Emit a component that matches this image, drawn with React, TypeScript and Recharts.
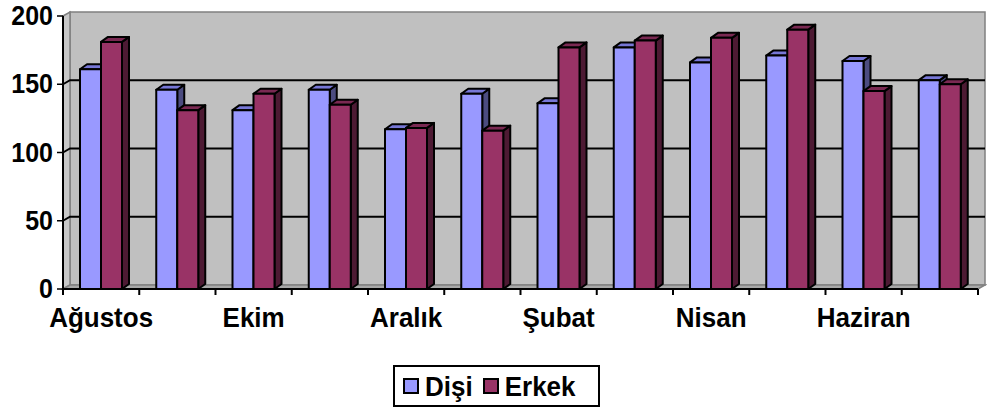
import React from "react";
import { BarChart, Bar, XAxis, YAxis, Legend, ReferenceArea } from "recharts";

// monthly counts, August through July
const months = ["Ağustos", "Eylül", "Ekim", "Kasım", "Aralık", "Ocak", "Şubat", "Mart", "Nisan", "Mayıs", "Haziran", "Temmuz"];
const disi = [161, 146, 131, 146, 117, 143, 136, 177, 166, 171, 167, 153];
const erkek = [181, 131, 143, 135, 118, 116, 177, 182, 184, 190, 145, 150];
const yTicks = [0, 50, 100, 150, 200];

const palette: Record<string, { front: string; top: string; side: string }> = {
  "Dişi": { front: "#9999FF", top: "#7777D6", side: "#4C4C80" },
  "Erkek": { front: "#993366", top: "#7A2952", side: "#4D1A33" },
};

const data = months.map((m, i) => ({ month: m, "Dişi": disi[i], "Erkek": erkek[i] }));

const W = 987;
const H = 414;
const margin = { top: 16, right: 9, left: 0, bottom: 7 };
const Y_W = 63;
const PLOT_W = W - margin.left - margin.right - Y_W;
const FONT = '"Liberation Sans", Arial, Helvetica, sans-serif';
const STRETCH = 1.08; // labels are drawn a little taller than the font

// depth of the back wall and of each bar (excel-style 3d look)
const WALL_DX = 7;
const WALL_DY = 4;
const BAR_DX = 7;
const BAR_DY = 5;

const Bar3D = (props: any) => {
  const { x, y, width: w, height: h, colors } = props;
  if (w == null || h == null || isNaN(y)) return null;
  const r = x + w;
  const b = y + h;
  return (
    <g stroke="#000" strokeWidth={2} strokeLinejoin="round">
      <polygon points={`${r},${y} ${r + BAR_DX},${y - BAR_DY} ${r + BAR_DX},${b - BAR_DY} ${r},${b}`} fill={colors.side} />
      <polygon points={`${x},${y} ${x + BAR_DX},${y - BAR_DY} ${r + BAR_DX},${y - BAR_DY} ${r},${y}`} fill={colors.top} />
      <rect x={x} y={y} width={w} height={h} fill={colors.front} />
    </g>
  );
};

// back wall, side wall, floor and gridlines
const Walls = (props: any) => {
  const { x, y, width: w, height: h } = props;
  const yMax = yTicks[yTicks.length - 1];
  const b = y + h;
  return (
    <g>
      <rect x={x + WALL_DX} y={y - WALL_DY} width={w} height={h} fill="#C0C0C0" stroke="#808080" strokeWidth={1.5} />
      <polygon points={`${x},${y} ${x + WALL_DX},${y - WALL_DY} ${x + WALL_DX},${b - WALL_DY} ${x},${b}`} fill="#C8C8C8" stroke="#808080" strokeWidth={1.5} />
      <polygon points={`${x},${b} ${x + WALL_DX},${b - WALL_DY} ${x + w + WALL_DX},${b - WALL_DY} ${x + w},${b}`} fill="#A8A8A8" stroke="#808080" strokeWidth={1.5} />
      {yTicks.slice(1, -1).map((v) => {
        const gy = y + (h * (yMax - v)) / yMax;
        return (
          <polyline
            key={v}
            points={`${x},${gy} ${x + WALL_DX},${gy - WALL_DY} ${x + w + WALL_DX},${gy - WALL_DY}`}
            fill="none"
            stroke="#000"
            strokeWidth={2}
          />
        );
      })}
    </g>
  );
};

const MonthTick = (props: any) => {
  const { x, y, payload, index } = props;
  const band = PLOT_W / months.length;
  const left = x - band / 2;
  return (
    <g>
      <line x1={left} y1={y - 6} x2={left} y2={y} stroke="#000" strokeWidth={2} />
      {index === months.length - 1 && (
        <line x1={left + band} y1={y - 6} x2={left + band} y2={y} stroke="#000" strokeWidth={2} />
      )}
      {index % 2 === 0 && (
        <text
          transform={`translate(${x},${y + 32}) scale(1,${STRETCH})`}
          textAnchor="middle"
          fontFamily={FONT}
          fontWeight="bold"
          fontSize={26}
          fill="#000"
        >
          {payload.value}
        </text>
      )}
    </g>
  );
};

const ValueTick = (props: any) => {
  const { x, y, payload } = props;
  return (
    <text
      transform={`translate(${x},${y + 9}) scale(1,${STRETCH})`}
      textAnchor="end"
      fontFamily={FONT}
      fontWeight="bold"
      fontSize={25}
      fill="#000"
    >
      {payload.value}
    </text>
  );
};

const LegendBox = () => (
  <div style={{ display: "flex", justifyContent: "center" }}>
    <div
      style={{
        marginLeft: 6,
        width: 207,
        height: 42,
        boxSizing: "border-box",
        border: "2px solid #000",
        background: "#fff",
        display: "flex",
        alignItems: "center",
        paddingLeft: 8,
        fontFamily: FONT,
        fontWeight: "bold",
        fontSize: 26,
        color: "#000",
      }}
    >
      {Object.keys(palette).map((name, i) => (
        <span key={name} style={{ display: "flex", alignItems: "center", marginLeft: i === 0 ? 0 : 10 }}>
          <span
            style={{
              width: 16,
              height: 16,
              boxSizing: "border-box",
              border: "2px solid #000",
              background: palette[name].front,
              marginRight: 6,
            }}
          />
          <span style={{ display: "inline-block", transform: `scaleY(${STRETCH})` }}>{name}</span>
        </span>
      ))}
    </div>
  </div>
);

export default function App() {
  return (
    <div style={{ position: "absolute", left: 0, top: 0, width: W, height: H, background: "#fff" }}>
      <BarChart width={W} height={H} data={data} margin={margin} barGap={0} barSize={21}>
        <ReferenceArea y1={0} y2={200} shape={<Walls />} ifOverflow="visible" />
        <XAxis
          dataKey="month"
          interval={0}
          height={76}
          tickLine={false}
          tickSize={6}
          tickMargin={0}
          axisLine={{ stroke: "#000", strokeWidth: 2 }}
          tick={<MonthTick />}
        />
        <YAxis
          width={Y_W}
          domain={[0, 200]}
          ticks={yTicks}
          interval={0}
          tickSize={6}
          tickMargin={4}
          axisLine={{ stroke: "#000", strokeWidth: 2 }}
          tickLine={{ stroke: "#000", strokeWidth: 1.5 }}
          tick={<ValueTick />}
        />
        <Legend verticalAlign="bottom" align="left" wrapperStyle={{ left: 0, width: W }} content={() => <LegendBox />} />
        <Bar dataKey="Dişi" isAnimationActive={false} shape={(p: any) => <Bar3D {...p} colors={palette["Dişi"]} />} />
        <Bar dataKey="Erkek" isAnimationActive={false} shape={(p: any) => <Bar3D {...p} colors={palette["Erkek"]} />} />
      </BarChart>
    </div>
  );
}
